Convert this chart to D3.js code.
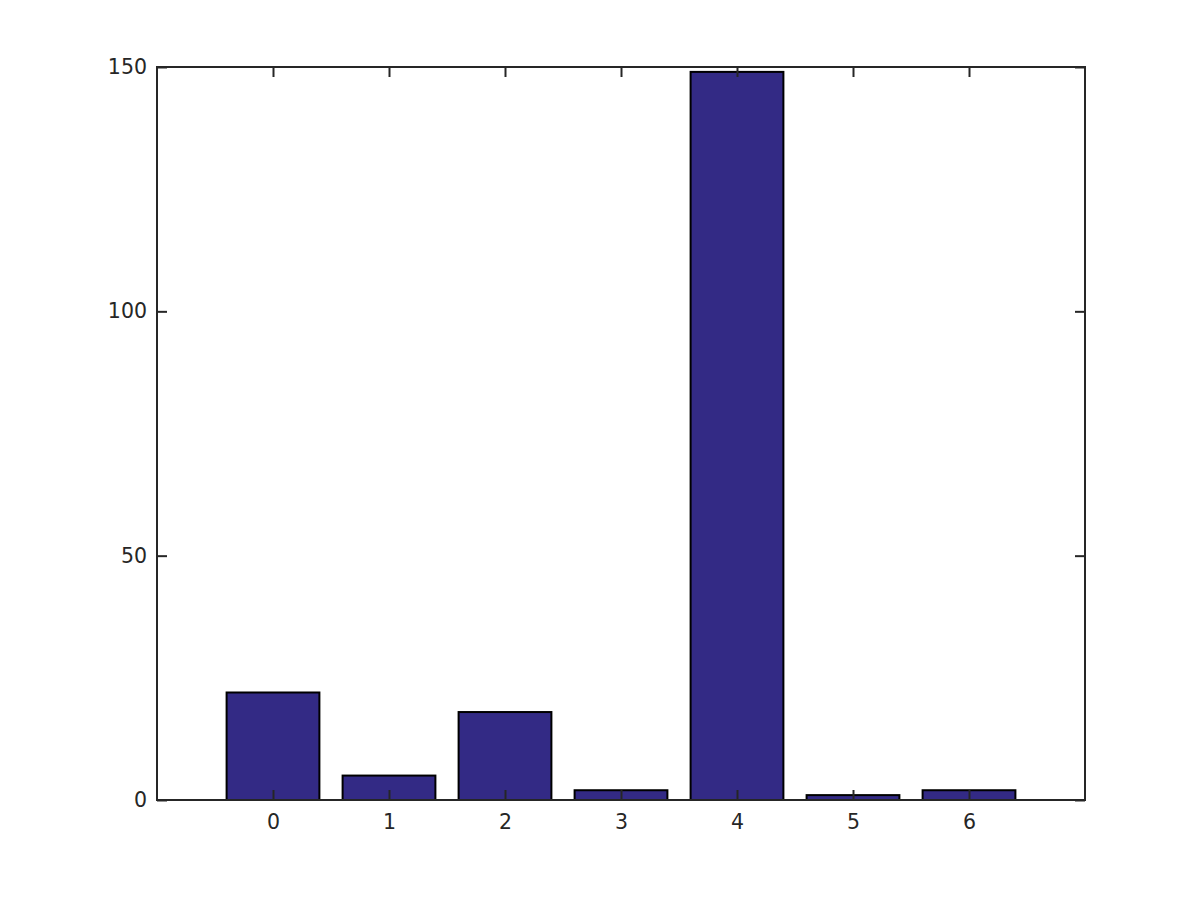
<!DOCTYPE html>
<html><head><meta charset="utf-8">
<script src="https://cdn.jsdelivr.net/npm/d3@7"></script>
<style>body{margin:0;background:#fff}svg{display:block}</style>
</head><body>
<svg id="c" width="1200" height="900"></svg>
<script>
const categories = [0, 1, 2, 3, 4, 5, 6];
const values = [22, 5, 18, 2, 149, 1, 2];
const yTicks = [0, 50, 100, 150];

const svg = d3.select("#c");
const L = 157, R = 1085, T = 67, B = 800;
const x = d3.scaleLinear().domain([-1, 7]).range([L, R]);
const y = d3.scaleLinear().domain([0, 150]).range([B, T]);
const bw = (x(1) - x(0)) * 0.8;
const ink = "#262626";
const font = "DejaVu Sans, sans-serif";

svg.append("g").selectAll("rect").data(categories).join("rect")
  .attr("x", d => x(d) - bw / 2)
  .attr("y", (d, i) => y(values[i]))
  .attr("width", bw)
  .attr("height", (d, i) => y(0) - y(values[i]))
  .attr("fill", "#332a85")
  .attr("stroke", "#000")
  .attr("stroke-width", 2);

function styleAxis(g) {
  g.select(".domain").remove();
  g.selectAll("line").attr("stroke", ink).attr("stroke-width", 2);
  g.selectAll("text").attr("fill", ink).style("font-family", font).style("font-size", "20.5px");
}
svg.append("g").attr("transform", `translate(0,${B})`)
  .call(d3.axisBottom(x).tickValues(categories).tickSizeInner(-10).tickSizeOuter(0).tickPadding(14).tickFormat(d3.format("d")))
  .call(styleAxis);
svg.append("g").attr("transform", `translate(0,${T})`)
  .call(d3.axisTop(x).tickValues(categories).tickSizeInner(-10).tickSizeOuter(0).tickFormat(""))
  .call(styleAxis);
svg.append("g").attr("transform", `translate(${L},0)`)
  .call(d3.axisLeft(y).tickValues(yTicks).tickSizeInner(-10).tickSizeOuter(0).tickPadding(10).tickFormat(d3.format("d")))
  .call(styleAxis);
svg.append("g").attr("transform", `translate(${R},0)`)
  .call(d3.axisRight(y).tickValues(yTicks).tickSizeInner(-10).tickSizeOuter(0).tickFormat(""))
  .call(styleAxis);

svg.append("rect").attr("x", L).attr("y", T).attr("width", R - L).attr("height", B - T)
  .attr("fill", "none").attr("stroke", ink).attr("stroke-width", 2);
</script>
</body></html>
